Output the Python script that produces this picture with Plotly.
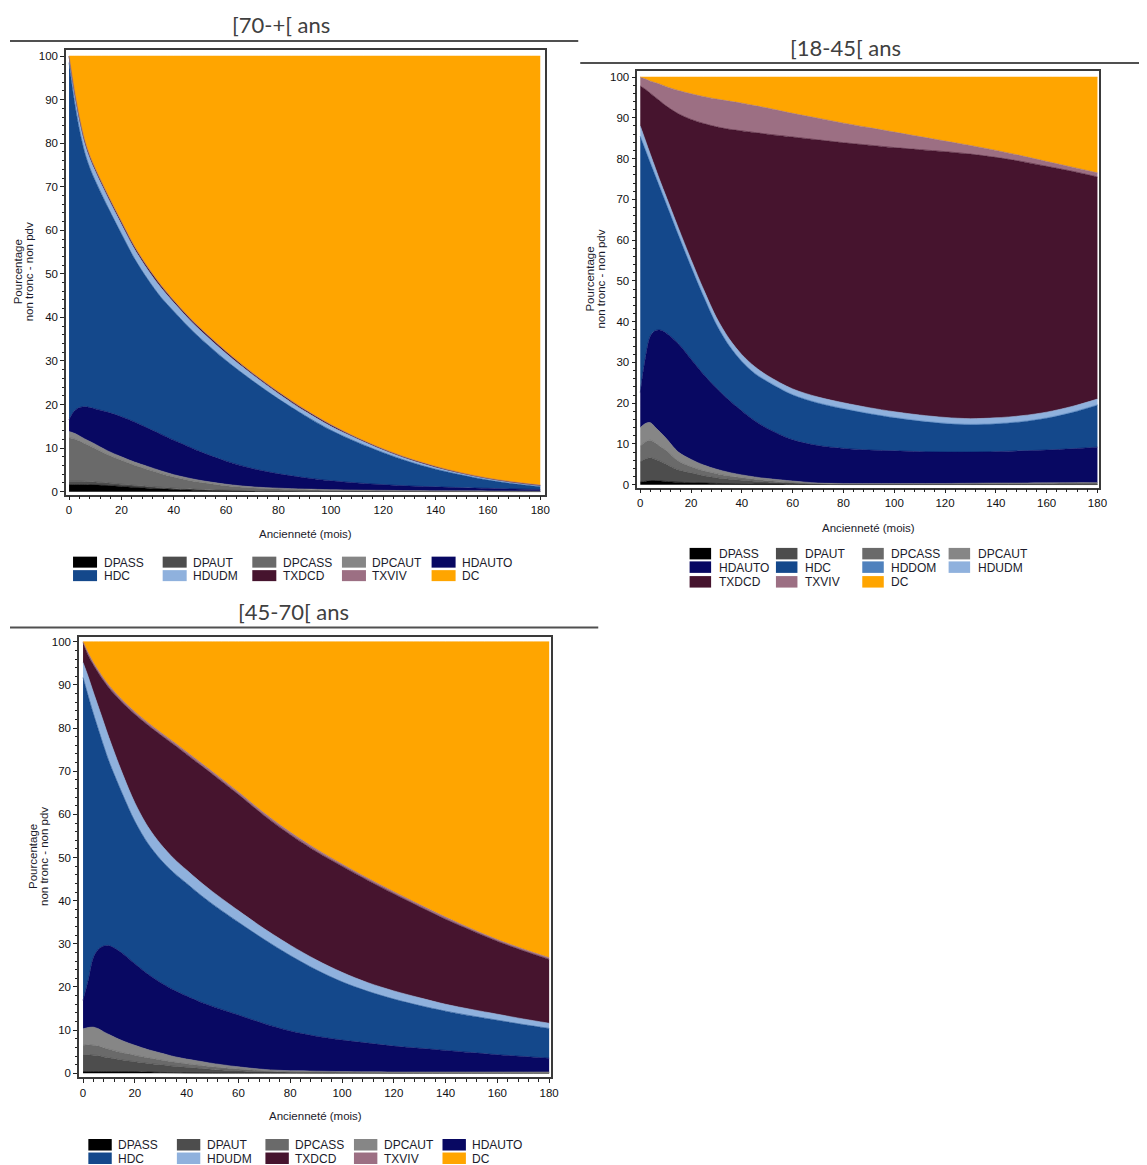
import plotly.graph_objects as go

# Seniority in months (sampling points of the stacked shares)
MONTHS = [0, 2, 4, 6, 8, 10, 15, 20, 25, 30, 35, 40, 45, 50, 60, 70, 80, 90,
          100, 110, 120, 130, 140, 150, 160, 170, 180]

# ---- [70-+[ ans : share (%) of each state ----
P70_DPASS = [1.6, 1.6, 1.6, 1.6, 1.55, 1.5, 1.4, 1.2, 1.0, 0.8, 0.65, 0.5, 0.4, 0.3, 0.2, 0.12, 0.08, 0.05,
             0.04, 0.03, 0.03, 0.03, 0.02, 0.02, 0.02, 0.01, 0.01]
P70_DPAUT = [0.8, 0.8, 0.8, 0.75, 0.7, 0.7, 0.6, 0.5, 0.45, 0.4, 0.35, 0.3, 0.25, 0.2, 0.15, 0.1, 0.08, 0.06,
             0.05, 0.04, 0.03, 0.03, 0.02, 0.02, 0.02, 0.01, 0.01]
P70_DPCASS = [10.0, 9.7, 9.2, 8.65, 8.25, 7.7, 6.4, 5.5, 4.6, 3.9, 3.18, 2.55, 2.05, 1.65, 1.0, 0.63, 0.44, 0.34,
              0.24, 0.18, 0.16, 0.12, 0.1, 0.09, 0.06, 0.06, 0.05]
P70_DPCAUT = [1.4, 1.3, 1.2, 1.1, 1.0, 1.0, 0.9, 0.8, 0.75, 0.7, 0.62, 0.55, 0.5, 0.45, 0.35, 0.25, 0.2, 0.15,
              0.12, 0.1, 0.08, 0.07, 0.06, 0.05, 0.05, 0.04, 0.03]
P70_HDAUTO = [2.7, 5.1, 6.5, 7.4, 7.8, 8.1, 8.9, 9.2, 9.2, 8.8, 8.4, 7.9, 7.3, 6.6, 5.3, 4.2, 3.3, 2.6,
              2.05, 1.65, 1.3, 1.05, 0.9, 0.72, 0.6, 0.48, 0.4]
P70_HDC = [82.0, 71.3, 63.7, 58.3, 54.9, 52.4, 46.9, 42.0, 37.5, 34.2, 31.5, 29.6, 27.7, 26.1, 23.1, 20.2, 17.2, 14.3,
           11.6, 9.35, 7.35, 5.55, 4.05, 2.9, 1.9, 1.2, 0.65]
P70_HDUDM = [1.5, 2.0, 2.2, 2.2, 2.2, 2.2, 2.2, 2.2, 2.2, 2.2, 2.2, 2.0, 1.9, 1.8, 1.6, 1.4, 1.2, 1.0,
             0.9, 0.8, 0.6, 0.5, 0.4, 0.35, 0.3, 0.25, 0.2]
P70_TXDCD = [0.0, 0.4, 0.5, 0.5, 0.5, 0.5, 0.5, 0.5, 0.5, 0.5, 0.5, 0.4, 0.4, 0.4, 0.4, 0.3, 0.3, 0.3,
             0.3, 0.2, 0.2, 0.2, 0.2, 0.1, 0.1, 0.1, 0.1]
P70_TXVIV = [0.0, 0.1, 0.1, 0.1, 0.1, 0.1, 0.1, 0.1, 0.1, 0.1, 0.1, 0.1, 0.1, 0.1, 0.1, 0.1, 0.1, 0.1,
             0.1, 0.05, 0.05, 0.05, 0.05, 0.05, 0.05, 0.05, 0.05]
P70_DC = [0.0, 7.7, 14.2, 19.4, 23.0, 25.8, 32.1, 38.0, 43.7, 48.4, 52.5, 56.1, 59.4, 62.4, 67.8, 72.7, 77.1, 81.1,
          84.6, 87.6, 90.2, 92.4, 94.2, 95.7, 96.9, 97.8, 98.5]

# ---- [18-45[ ans ----
P18_DPASS = [0.6, 0.8, 1.0, 1.0, 0.9, 0.8, 0.6, 0.5, 0.4, 0.3, 0.25, 0.2, 0.17, 0.15, 0.1, 0.05, 0.03, 0.03,
             0.03, 0.03, 0.03, 0.03, 0.03, 0.03, 0.03, 0.03, 0.03]
P18_DPAUT = [5.0, 5.5, 5.6, 5.2, 4.8, 4.3, 3.0, 2.4, 1.8, 1.4, 1.1, 0.9, 0.7, 0.5, 0.3, 0.1, 0.07, 0.07,
             0.07, 0.07, 0.07, 0.07, 0.07, 0.07, 0.07, 0.07, 0.07]
P18_DPCASS = [3.9, 4.2, 4.3, 4.0, 3.6, 3.4, 2.2, 1.5, 1.2, 1.0, 0.75, 0.6, 0.48, 0.4, 0.2, 0.1, 0.1, 0.1,
              0.1, 0.1, 0.1, 0.15, 0.2, 0.2, 0.25, 0.3, 0.3]
P18_DPCAUT = [4.5, 4.5, 4.3, 3.8, 3.5, 3.0, 2.2, 1.8, 1.4, 1.1, 0.9, 0.7, 0.55, 0.45, 0.3, 0.15, 0.1, 0.1,
              0.1, 0.1, 0.1, 0.1, 0.1, 0.1, 0.1, 0.1, 0.1]
P18_HDAUTO = [8.6, 16.0, 21.3, 23.8, 25.1, 25.8, 26.6, 24.6, 22.2, 19.9, 17.7, 15.7, 13.8, 12.3, 10.1, 9.2, 8.6, 8.2,
              8.0, 7.8, 7.7, 7.65, 7.7, 7.9, 8.05, 8.3, 8.7]
P18_HDC = [62.8, 51.2, 42.4, 37.9, 34.6, 32.0, 26.7, 22.7, 19.1, 15.6, 13.4, 12.1, 11.6, 11.5, 11.0, 10.4, 9.7, 8.9,
           8.1, 7.5, 7.0, 6.7, 6.8, 7.1, 7.8, 8.9, 10.3]
P18_HDDOM = [0.1, 0.1, 0.1, 0.1, 0.1, 0.1, 0.1, 0.1, 0.1, 0.1, 0.1, 0.1, 0.1, 0.1, 0.1, 0.1, 0.1, 0.1,
             0.1, 0.1, 0.1, 0.1, 0.1, 0.1, 0.1, 0.1, 0.1]
P18_HDUDM = [2.5, 2.2, 2.0, 1.8, 1.6, 1.6, 1.6, 1.6, 1.6, 1.6, 1.6, 1.6, 1.6, 1.4, 1.4, 1.4, 1.4, 1.4,
             1.4, 1.4, 1.4, 1.4, 1.4, 1.4, 1.4, 1.4, 1.4]
P18_TXDCD = [9.8, 12.5, 15.0, 17.4, 19.8, 22.0, 28.0, 34.4, 40.8, 46.8, 51.4, 54.9, 57.4, 59.2, 61.8, 63.1, 63.8, 64.4,
             64.8, 65.1, 65.2, 64.9, 63.9, 62.4, 60.3, 57.7, 54.5]
P18_TXVIV = [2.2, 2.5, 3.0, 3.6, 4.2, 4.7, 5.7, 6.3, 6.6, 6.8, 6.9, 6.8, 6.6, 6.4, 5.8, 5.3, 4.8, 4.3,
             3.8, 3.2, 2.6, 2.1, 1.7, 1.4, 1.2, 1.0, 1.0]
P18_DC = [0.0, 0.5, 1.0, 1.4, 1.8, 2.3, 3.3, 4.1, 4.8, 5.4, 5.9, 6.4, 7.0, 7.6, 8.9, 10.1, 11.3, 12.4,
          13.5, 14.6, 15.7, 16.8, 18.0, 19.3, 20.7, 22.1, 23.5]

# ---- [45-70[ ans ----
P45_DPASS = [0.4, 0.4, 0.4, 0.4, 0.4, 0.4, 0.4, 0.4, 0.3, 0.2, 0.15, 0.1, 0.07, 0.05, 0.05, 0.03, 0.03, 0.02,
             0.02, 0.02, 0.02, 0.02, 0.02, 0.02, 0.02, 0.02, 0.02]
P45_DPAUT = [3.9, 3.9, 3.8, 3.7, 3.4, 3.2, 2.7, 2.3, 2.0, 1.8, 1.5, 1.3, 1.08, 0.85, 0.55, 0.32, 0.22, 0.21,
             0.18, 0.15, 0.1, 0.1, 0.1, 0.1, 0.1, 0.1, 0.1]
P45_DPCASS = [2.2, 2.3, 2.3, 2.2, 2.1, 2.0, 1.7, 1.5, 1.3, 1.1, 0.95, 0.8, 0.7, 0.6, 0.4, 0.25, 0.15, 0.12,
              0.1, 0.08, 0.08, 0.08, 0.08, 0.08, 0.08, 0.08, 0.08]
P45_DPCAUT = [3.8, 4.0, 4.2, 4.0, 3.7, 3.4, 2.8, 2.3, 1.9, 1.6, 1.3, 1.1, 0.95, 0.8, 0.5, 0.3, 0.2, 0.15,
              0.1, 0.1, 0.1, 0.1, 0.1, 0.1, 0.1, 0.1, 0.1]
P45_HDAUTO = [6.6, 10.9, 16.1, 18.5, 19.9, 20.6, 20.3, 18.9, 17.5, 16.3, 15.4, 14.6, 13.8, 13.2, 12.0, 10.6, 9.2, 8.1,
              7.3, 6.65, 6.0, 5.5, 5.0, 4.5, 4.0, 3.6, 3.2]
P45_HDC = [74.8, 65.9, 56.5, 50.7, 46.3, 42.7, 37.1, 33.0, 30.3, 28.5, 27.2, 26.1, 24.9, 23.7, 21.5, 19.5, 17.5, 15.4,
           13.5, 12.0, 10.9, 9.9, 9.1, 8.5, 8.0, 7.4, 6.9]
P45_HDUDM = [3.5, 4.5, 5.0, 5.3, 5.5, 5.5, 4.8, 4.3, 3.9, 3.6, 3.3, 3.1, 3.0, 2.9, 2.7, 2.5, 2.4, 2.3,
             2.2, 2.0, 1.9, 1.8, 1.6, 1.5, 1.4, 1.3, 1.2]
P45_TXDCD = [4.6, 4.9, 6.3, 7.9, 9.6, 11.5, 16.2, 20.5, 23.5, 25.3, 26.4, 26.8, 27.1, 27.2, 26.9, 26.2, 25.6, 25.1,
             24.6, 23.7, 22.5, 21.1, 19.7, 18.3, 16.9, 15.8, 14.8]
P45_TXVIV = [0.2, 0.6, 0.6, 0.6, 0.6, 0.6, 0.6, 0.6, 0.6, 0.6, 0.6, 0.6, 0.6, 0.6, 0.6, 0.6, 0.6, 0.6,
             0.5, 0.5, 0.5, 0.5, 0.5, 0.4, 0.4, 0.4, 0.4]
P45_DC = [0.0, 2.6, 4.8, 6.7, 8.5, 10.1, 13.4, 16.2, 18.7, 21.0, 23.2, 25.5, 27.8, 30.1, 34.8, 39.7, 44.1, 48.0,
          51.5, 54.8, 57.9, 60.9, 63.8, 66.5, 69.0, 71.2, 73.2]

X_TICKS = [0, 20, 40, 60, 80, 100, 120, 140, 160, 180]
Y_TICKS = [0, 10, 20, 30, 40, 50, 60, 70, 80, 90, 100]

COLORS = {
    "DPASS": "#000000", "DPAUT": "#4d4d4d", "DPCASS": "#6a6a6a", "DPCAUT": "#868686",
    "HDAUTO": "#080862", "HDC": "#14488b", "HDDOM": "#4f81bd", "HDUDM": "#8fb1dd",
    "TXDCD": "#46142e", "TXVIV": "#9c6f83", "DC": "#ffa500",
}

W, H = 1147, 1165
# the page capture comes out very slightly compressed; positions are given in
# final-image pixels and converted here
SX, SY = 0.9926, 0.9972


def fx(px):
    return px / SX / W


def fy(py):
    return 1 - py / SY / H


panels = [
    dict(title="[70-+[ ans",
         series=[("DPASS", P70_DPASS), ("DPAUT", P70_DPAUT), ("DPCASS", P70_DPCASS), ("DPCAUT", P70_DPCAUT),
                 ("HDAUTO", P70_HDAUTO), ("HDC", P70_HDC), ("HDUDM", P70_HDUDM), ("TXDCD", P70_TXDCD),
                 ("TXVIV", P70_TXVIV), ("DC", P70_DC)],
         frame=(66, 49, 545, 494), xr=[-1.15, 181.9], yr=[-0.7, 101.4],
         title_xy=(281, 24), rule=(10, 578, 40),
         xlab_y=533, ylab_x=(18, 29),
         leg=dict(x0=73, dx=89.6, w=24, h=11, rows=[561.5, 575.0], ncol=5, tdx=28.5)),
    dict(title="[18-45[ ans",
         series=[("DPASS", P18_DPASS), ("DPAUT", P18_DPAUT), ("DPCASS", P18_DPCASS), ("DPCAUT", P18_DPCAUT),
                 ("HDAUTO", P18_HDAUTO), ("HDC", P18_HDC), ("HDDOM", P18_HDDOM), ("HDUDM", P18_HDUDM),
                 ("TXDCD", P18_TXDCD), ("TXVIV", P18_TXVIV), ("DC", P18_DC)],
         frame=(637, 70, 1099, 487), xr=[-1.18, 180.8], yr=[-0.74, 101.5],
         title_xy=(845, 47), rule=(580, 1160, 62),
         xlab_y=527, ylab_x=(590, 601),
         leg=dict(x0=689.3, dx=86.3, w=21.5, h=11.5, rows=[553.0, 566.5, 581.2], ncol=4, tdx=27)),
    dict(title="[45-70[ ans",
         series=[("DPASS", P45_DPASS), ("DPAUT", P45_DPAUT), ("DPCASS", P45_DPCASS), ("DPCAUT", P45_DPCAUT),
                 ("HDAUTO", P45_HDAUTO), ("HDC", P45_HDC), ("HDUDM", P45_HDUDM), ("TXDCD", P45_TXDCD),
                 ("TXVIV", P45_TXVIV), ("DC", P45_DC)],
         frame=(79, 636, 551, 1077), xr=[-1.55, 180.8], yr=[-0.93, 101.2],
         title_xy=(293, 611), rule=(10, 598, 627),
         xlab_y=1116, ylab_x=(33, 44),
         leg=dict(x0=88.3, dx=88.5, w=23.4, h=11.5, rows=[1144.5, 1158.0], ncol=5, tdx=27.7)),
]

fig = go.Figure()
shapes = []
annotations = []
TEXT_FONT = "Liberation Sans, Arial, sans-serif"
TEXT_COLOR = "#1b1b2b"

layout_axes = {}
for i, p in enumerate(panels, start=1):
    suffix = "" if i == 1 else str(i)
    xa, ya = "x" + suffix, "y" + suffix
    for name, vals in p["series"]:
        fig.add_trace(go.Scatter(
            x=MONTHS, y=vals, name=name, stackgroup="stack%d" % i, mode="lines",
            line=dict(width=0.6, color=COLORS[name], shape="spline", smoothing=0.9),
            fillcolor=COLORS[name], xaxis=xa, yaxis=ya, showlegend=False,
            hovertemplate=name + ": %{y:.1f}%<extra></extra>"))

    l, t, r, b = p["frame"]
    axis_common = dict(showline=True, mirror=True, linecolor="#3a3a3a", linewidth=1.5,
                       ticks="outside", ticklen=4, tickwidth=1, tickcolor="#222",
                       showgrid=False, zeroline=False,
                       tickfont=dict(family=TEXT_FONT, size=11.5, color="#111"))
    layout_axes["xaxis" + suffix] = dict(
        axis_common, domain=[fx(l), min(fx(r), 1.0)], range=p["xr"], anchor=ya,
        tickmode="array", tickvals=X_TICKS,
        minor=dict(ticks="outside", ticklen=2.5, tickwidth=1, tickcolor="#222", dtick=4, tick0=0))
    layout_axes["yaxis" + suffix] = dict(
        axis_common, domain=[fy(b), fy(t)], range=p["yr"], anchor=xa,
        tickmode="array", tickvals=Y_TICKS,
        minor=dict(ticks="outside", ticklen=2.5, tickwidth=1, tickcolor="#222", dtick=2, tick0=0))

    # panel title and the rule under it
    annotations.append(dict(text=p["title"], x=fx(p["title_xy"][0]), y=fy(p["title_xy"][1]),
                            xref="paper", yref="paper", showarrow=False, xanchor="center", yanchor="middle",
                            font=dict(family="Lato, Open Sans, sans-serif", size=22, color="#404040")))
    x0, x1, yl = p["rule"]
    shapes.append(dict(type="line", xref="paper", yref="paper", x0=fx(x0), x1=min(fx(x1), 1.0),
                       y0=fy(yl), y1=fy(yl), line=dict(color="#505050", width=2)))

    # axis titles
    annotations.append(dict(text="Ancienneté (mois)", x=fx((l + r) / 2), y=fy(p["xlab_y"]),
                            xref="paper", yref="paper", showarrow=False, xanchor="center", yanchor="middle",
                            font=dict(family=TEXT_FONT, size=11.5, color=TEXT_COLOR)))
    for txt, xpx in zip(["Pourcentage", "non tronc - non pdv"], p["ylab_x"]):
        annotations.append(dict(text=txt, x=fx(xpx), y=fy((t + b) / 2), textangle=-90,
                                xref="paper", yref="paper", showarrow=False,
                                xanchor="center", yanchor="middle",
                                font=dict(family=TEXT_FONT, size=11.5, color=TEXT_COLOR)))

    # legend: coloured swatches with series names
    lg = p["leg"]
    for k, (name, _) in enumerate(p["series"]):
        row, col = divmod(k, lg["ncol"])
        sx = lg["x0"] + col * lg["dx"]
        cy = lg["rows"][row]
        shapes.append(dict(type="rect", xref="paper", yref="paper",
                           x0=fx(sx), x1=fx(sx + lg["w"]), y0=fy(cy + lg["h"] / 2), y1=fy(cy - lg["h"] / 2),
                           fillcolor=COLORS[name], line=dict(width=0)))
        annotations.append(dict(text=name, x=fx(sx + lg["tdx"]), y=fy(cy + 0.5), xref="paper", yref="paper",
                                showarrow=False, xanchor="left", yanchor="middle",
                                font=dict(family=TEXT_FONT, size=12, color=TEXT_COLOR)))

fig.update_layout(
    width=W, height=H, margin=dict(l=0, r=0, t=0, b=0),
    paper_bgcolor="white", plot_bgcolor="white",
    shapes=shapes, annotations=annotations, showlegend=False,
    **layout_axes)

fig.write_html("out.html")
